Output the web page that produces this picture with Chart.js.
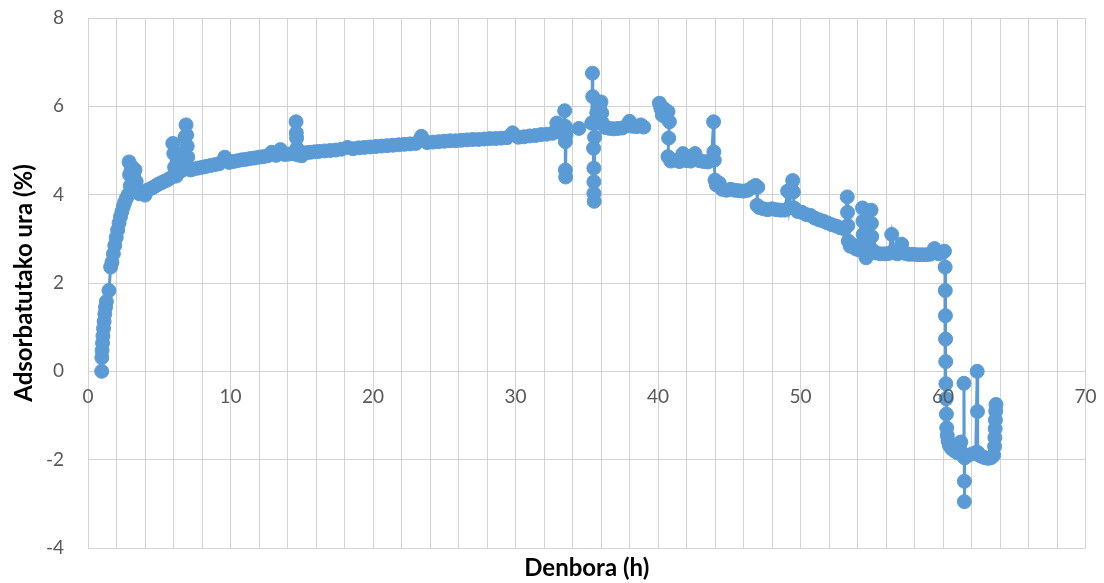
<!DOCTYPE html>
<html>
<head>
<meta charset="utf-8">
<script src="https://cdn.jsdelivr.net/npm/chart.js@4/dist/chart.umd.min.js"></script>
<style>
  html, body { margin: 0; padding: 0; background: #ffffff; }
  canvas { display: block; }
</style>
</head>
<body>
<canvas id="chart" width="1104" height="583"></canvas>
<script>
// Elapsed time of each reading (h); null in waterUptake marks a break in the record.
const hours = [
  0.96, 0.97, 0.99, 1.02, 1.05, 1.09, 1.13, 1.18, 1.23, 1.29,
  1.47, 1.59, 1.68, 1.78, 1.88, 1.98, 2.08, 2.18, 2.28, 2.38,
  2.48, 2.58, 2.70, 2.82,
  2.88, 2.92, 2.96, 3.02, 3.10, 3.20, 3.30, 3.38, 3.45, 3.60,
  3.80, 4.00, 4.15,
  4.35, 4.55, 4.75, 4.95, 5.15, 5.35, 5.55, 5.75, 5.95, 6.02,
  6.08, 6.18, 6.30, 6.45, 6.60, 6.70, 6.80, 6.88, 6.92, 6.96,
  7.00, 7.05, 7.20, 7.40, 7.70, 8.00, 8.30, 8.60, 8.90, 9.20,
  9.60, 9.90, 10.20, 10.50, 10.80, 11.10, 11.40, 11.70, 12.00, 12.30,
  12.60, 12.90, 13.20, 13.50, 13.80, 14.10, 14.40, 14.60, 14.62, 14.64,
  14.66, 14.70, 15.00, 15.30, 15.60, 15.90, 16.20, 16.60, 17.00, 17.40,
  17.80, 18.20, 18.60, 19.00, 19.40, 19.80, 20.20, 20.60, 21.00, 21.40,
  21.80, 22.20, 22.60, 23.00, 23.40, 23.80, 24.20, 24.60, 25.00, 25.40,
  25.80, 26.20, 26.60, 27.00, 27.40, 27.80, 28.20, 28.60, 29.00, 29.40,
  29.80, 30.20, 30.60, 31.00, 31.40, 31.80, 32.20, 32.60, 32.90, 33.10,
  33.30, 33.45, 33.48, 33.50, 33.50, 33.52, 33.55,
  34.45, 35.35, 35.40, 35.42, 35.45, 35.48, 35.50, 35.50, 35.50, 35.52,
  35.55, 35.60, 35.70, 35.80, 35.90, 36.00, 36.05, 36.10, 36.30, 36.60,
  36.90, 37.20, 37.50, 37.80, 38.00, 38.20, 38.50, 38.80, 39.00, 39.50,
  40.10, 40.20, 40.30, 40.40, 40.55, 40.70, 40.80, 40.75, 40.70, 40.90,
  41.20, 41.50, 41.75, 42.00, 42.30, 42.60, 42.90, 43.20, 43.50, 43.75,
  43.90, 43.92, 43.95, 44.00, 44.10, 44.30, 44.50, 44.80, 45.10, 45.40,
  45.70, 46.00, 46.30, 46.60, 46.85, 47.00, 46.95, 47.10, 47.40, 47.70,
  48.00, 48.30, 48.60, 48.90, 49.10, 49.20, 49.45, 49.50, 49.55, 49.80,
  50.10, 50.40, 50.70, 51.00, 51.30, 51.60, 51.90, 52.20, 52.50, 52.80,
  53.10, 53.28, 53.30, 53.32, 53.35, 53.50, 53.70, 53.90, 54.10, 54.35,
  54.38, 54.40, 54.42, 54.60, 54.80, 54.95, 54.98, 55.00, 55.05, 55.30,
  55.60, 55.90, 56.20, 56.40, 56.55, 56.80, 57.10, 57.35, 57.60, 57.90,
  58.20, 58.50, 58.80, 59.10, 59.40, 59.70, 60.00, 60.10,
  60.15, 60.16, 60.17, 60.18, 60.19, 60.20, 60.22, 60.24, 60.26, 60.30,
  60.36, 60.45, 60.60, 60.80, 61.00, 61.15, 61.25, 61.35, 61.45, 61.47,
  61.50, 61.50, 61.52, 61.75, 62.05, 62.30, 62.40, 62.42, 62.45, 62.60,
  62.80, 63.00, 63.20, 63.40, 63.55, 63.62, 63.64, 63.66, 63.68, 63.70,
  63.72
];

// Adsorbed water (%) at each of those times.
const waterUptake = [
  0.00, 0.31, 0.47, 0.64, 0.80, 0.97, 1.13, 1.30, 1.45, 1.58,
  1.83, 2.36, 2.47, 2.66, 2.85, 3.03, 3.20, 3.36, 3.50, 3.62,
  3.73, 3.83, 3.92, 4.00,
  4.74, 4.45, 4.20, 4.55, 4.62, 4.45, 4.56, 4.30, 4.10, 4.02,
  4.05, 3.99, 4.10,
  4.13, 4.16, 4.20, 4.24, 4.27, 4.30, 4.33, 4.37, 5.16, 4.93,
  4.62, 4.42, 4.48, 4.72, 4.55, 4.95, 5.30, 5.58, 5.35, 5.10,
  4.85, 4.60, 4.56, 4.58, 4.60, 4.62, 4.64, 4.66, 4.68, 4.70,
  4.85, 4.73, 4.75, 4.77, 4.79, 4.80, 4.82, 4.83, 4.85, 4.86,
  4.88, 4.96, 4.89, 5.02, 4.91, 4.92, 4.93, 5.65, 5.40, 5.28,
  5.05, 4.90, 4.88, 4.95, 4.96, 4.97, 4.98, 4.99, 5.00, 5.01,
  5.03, 5.07, 5.04, 5.06, 5.07, 5.08, 5.09, 5.10, 5.11, 5.12,
  5.13, 5.14, 5.15, 5.16, 5.32, 5.18, 5.19, 5.20, 5.21, 5.22,
  5.22, 5.23, 5.24, 5.25, 5.25, 5.26, 5.27, 5.27, 5.28, 5.29,
  5.40, 5.30, 5.31, 5.33, 5.34, 5.36, 5.37, 5.39, 5.62, 5.42,
  5.40, 5.90, 5.55, 5.20, 4.56, 4.40, 5.35,
  5.50, 5.62, 6.75, 6.22, 5.62, 5.05, 4.60, 4.29, 4.03, 3.85,
  5.30, 5.62, 5.85, 5.70, 6.00, 6.10, 5.85, 5.62, 5.52, 5.50,
  5.49, 5.50, 5.51, 5.56, 5.66, 5.55, 5.54, 5.58, 5.53, null,
  6.07, 5.95, 5.80, 5.95, 5.75, 5.88, 5.65, 5.28, 4.86, 4.76,
  4.78, 4.75, 4.93, 4.77, 4.76, 4.93, 4.77, 4.75, 4.74, 4.80,
  5.65, 4.97, 4.78, 4.33, 4.22, 4.26, 4.12, 4.10, 4.12, 4.10,
  4.09, 4.08, 4.10, 4.16, 4.21, 4.17, 3.76, 3.71, 3.68, 3.66,
  3.68, 3.66, 3.65, 3.65, 4.08, 3.70, 4.32, 4.06, 3.70, 3.62,
  3.60, 3.55, 3.53, 3.47, 3.43, 3.40, 3.36, 3.32, 3.29, 3.25,
  3.22, 3.95, 3.60, 3.30, 2.95, 2.83, 2.86, 2.77, 2.75, 3.70,
  3.40, 3.10, 2.80, 2.57, 2.85, 3.65, 3.35, 3.05, 2.74, 2.68,
  2.66, 2.66, 2.67, 3.10, 2.69, 2.66, 2.88, 2.67, 2.65, 2.65,
  2.64, 2.64, 2.64, 2.65, 2.78, 2.66, 2.70, 2.72,
  2.36, 1.83, 1.26, 0.73, 0.22, -0.28, -0.62, -0.97, -1.28, -1.45,
  -1.58, -1.68, -1.75, -1.80, -1.84, -1.72, -1.60, -1.86, -1.93, -0.27,
  -2.49, -2.95, -1.96, -1.90, -1.87, -1.84, 0.00, -0.91, -1.84, -1.91,
  -1.94, -1.96, -1.97, -1.95, -1.90, -1.70, -1.50, -1.30, -1.10, -0.90,
  -0.75
];

// Axis ranges and labels
const xRange = [0, 70];
const xGridStep = 2;
const xLabelStep = 10;
const yRange = [-4, 8];
const yStep = 2;
const xTitle = 'Denbora (h)';
const yTitle = 'Adsorbatutako ura (%)';

const seriesColor = '#5B9BD5';
const gridColor = '#d3d3d3';
const tickColor = '#595959';
const fontFamily = "Lato, 'Open Sans', 'Liberation Sans', sans-serif";
const tickFont = { family: fontFamily, size: 19 };
const titleFont = { family: fontFamily, size: 24, weight: 'bold', lineHeight: 1.2 };

const points = hours.map((h, i) => ({ x: h, y: waterUptake[i] }));

new Chart(document.getElementById('chart'), {
  type: 'line',
  data: {
    datasets: [{
      data: points,
      borderColor: seriesColor,
      backgroundColor: seriesColor,
      borderWidth: 3,
      pointRadius: 7,
      pointHoverRadius: 7,
      pointBorderWidth: 1,
      pointBackgroundColor: seriesColor,
      pointBorderColor: seriesColor,
      spanGaps: false,
      tension: 0,
      clip: false
    }]
  },
  options: {
    responsive: false,
    animation: false,
    events: [],
    layout: { padding: { top: 18, right: 18.5, bottom: 0, left: 0 } },
    plugins: {
      legend: { display: false },
      tooltip: { enabled: false },
      title: {
        display: true,
        position: 'bottom',
        fullSize: false,
        text: xTitle,
        color: '#000000',
        font: titleFont,
        padding: { top: 6, bottom: 0.2 }
      }
    },
    scales: {
      x: {
        type: 'linear',
        // the time axis crosses at 0 %, its labels sit just under that line
        position: { y: 0 },
        min: xRange[0],
        max: xRange[1],
        ticks: {
          stepSize: xGridStep,
          autoSkip: false,
          maxRotation: 0,
          padding: 14,
          color: tickColor,
          font: tickFont,
          z: 1,
          callback: (v) => (v % xLabelStep === 0 ? String(v) : '')
        },
        grid: { color: gridColor, lineWidth: 1, drawTicks: false },
        border: { color: gridColor, width: 1 },
        afterFit: (scale) => { scale.paddingLeft = 0; scale.paddingRight = 0; }
      },
      y: {
        type: 'linear',
        position: 'left',
        min: yRange[0],
        max: yRange[1],
        ticks: {
          stepSize: yStep,
          padding: 24,
          color: tickColor,
          font: tickFont,
          callback: (v) => String(v)
        },
        grid: { color: gridColor, lineWidth: 1, drawTicks: false },
        border: { color: gridColor, width: 1 },
        title: {
          display: true,
          text: yTitle,
          color: '#000000',
          font: titleFont,
          padding: { top: 9.6, bottom: 0 }
        },
        afterFit: (scale) => {
          scale.width = 88;
          scale.paddingTop = 0;
          scale.paddingBottom = 0;
        }
      }
    }
  }
});
</script>
</body>
</html>
